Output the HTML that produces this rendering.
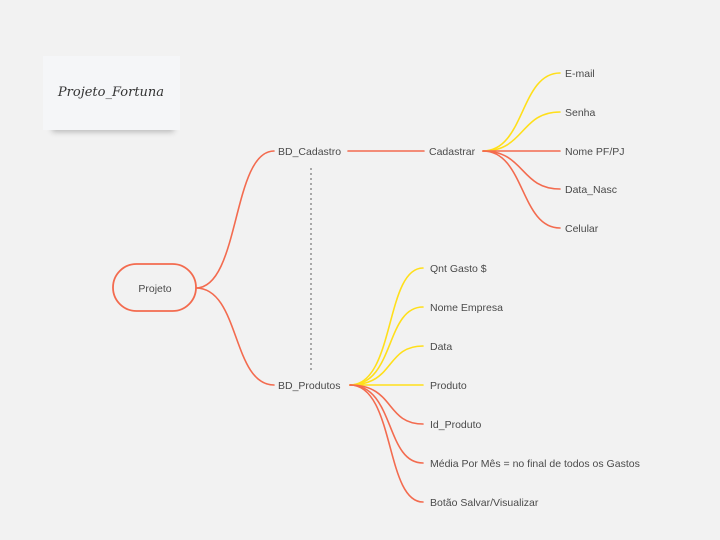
<!DOCTYPE html>
<html><head><meta charset="utf-8"><style>
html,body{margin:0;padding:0;background:#f2f2f2;width:720px;height:540px;overflow:hidden}
text{font-family:"Liberation Sans",sans-serif;font-size:10.5px;fill:#4a4a4a}
</style></head><body>
<svg width="720" height="540" viewBox="0 0 720 540" xmlns="http://www.w3.org/2000/svg">
<defs>
<filter id="sh" x="-20%" y="-20%" width="140%" height="160%"><feGaussianBlur stdDeviation="3"/></filter>
</defs>
<rect width="720" height="540" fill="#f2f2f2"/>
<!-- sticky -->
<rect x="52" y="118" width="122" height="14" fill="#888" opacity="0.55" filter="url(#sh)"/>
<rect x="43" y="56" width="137" height="74" fill="#f5f6f8"/>
<text x="111" y="96" text-anchor="middle" style="font-family:'DejaVu Serif',serif;font-style:italic;font-size:13px;fill:#333">Projeto_Fortuna</text>
<g fill="none" stroke-width="1.6" stroke-linecap="round">
<!-- root -->
<path d="M196,288 C240,288 232,151 274,151" stroke="#f36b4f"/>
<path d="M196,288 C240,288 232,385 274,385" stroke="#f36b4f"/>
<path d="M348,151 L424,151" stroke="#f36b4f"/>
<!-- Cadastrar children -->
<path d="M483,151 C525,151 520,73 560,73" stroke="#ffdf1a"/>
<path d="M483,151 C525,151 520,112 560,112" stroke="#ffdf1a"/>
<path d="M483,151 L560,151" stroke="#f36b4f"/>
<path d="M483,151 C525,151 520,189 560,189" stroke="#f36b4f"/>
<path d="M483,151 C525,151 520,228 560,228" stroke="#f36b4f"/>
<!-- Produtos children -->
<path d="M350,385 C395,385 385,268 423,268" stroke="#ffdf1a"/>
<path d="M350,385 C395,385 385,307 423,307" stroke="#ffdf1a"/>
<path d="M350,385 C395,385 385,346 423,346" stroke="#ffdf1a"/>
<path d="M350,385 L423,385" stroke="#ffdf1a"/>
<path d="M350,385 C395,385 385,424 423,424" stroke="#f36b4f"/>
<path d="M350,385 C395,385 385,463 423,463" stroke="#f36b4f"/>
<path d="M350,385 C395,385 385,502 423,502" stroke="#f36b4f"/>
</g>
<line x1="311" y1="168" x2="311" y2="370" stroke="#777" stroke-width="1.2" stroke-dasharray="2,3"/>
<rect x="113" y="264" width="83" height="47" rx="23.5" fill="#f2f2f2" stroke="#f36b4f" stroke-width="1.8"/>
<text x="155" y="292" text-anchor="middle">Projeto</text>
<text x="278" y="155">BD_Cadastro</text>
<text x="278" y="389">BD_Produtos</text>
<text x="429" y="155">Cadastrar</text>
<text x="565" y="77">E-mail</text>
<text x="565" y="116">Senha</text>
<text x="565" y="155">Nome PF/PJ</text>
<text x="565" y="193">Data_Nasc</text>
<text x="565" y="232">Celular</text>
<text x="430" y="272">Qnt Gasto $</text>
<text x="430" y="311">Nome Empresa</text>
<text x="430" y="350">Data</text>
<text x="430" y="389">Produto</text>
<text x="430" y="428">Id_Produto</text>
<text x="430" y="467">Média Por Mês = no final de todos os Gastos</text>
<text x="430" y="506">Botão Salvar/Visualizar</text>
</svg>
</body></html>
